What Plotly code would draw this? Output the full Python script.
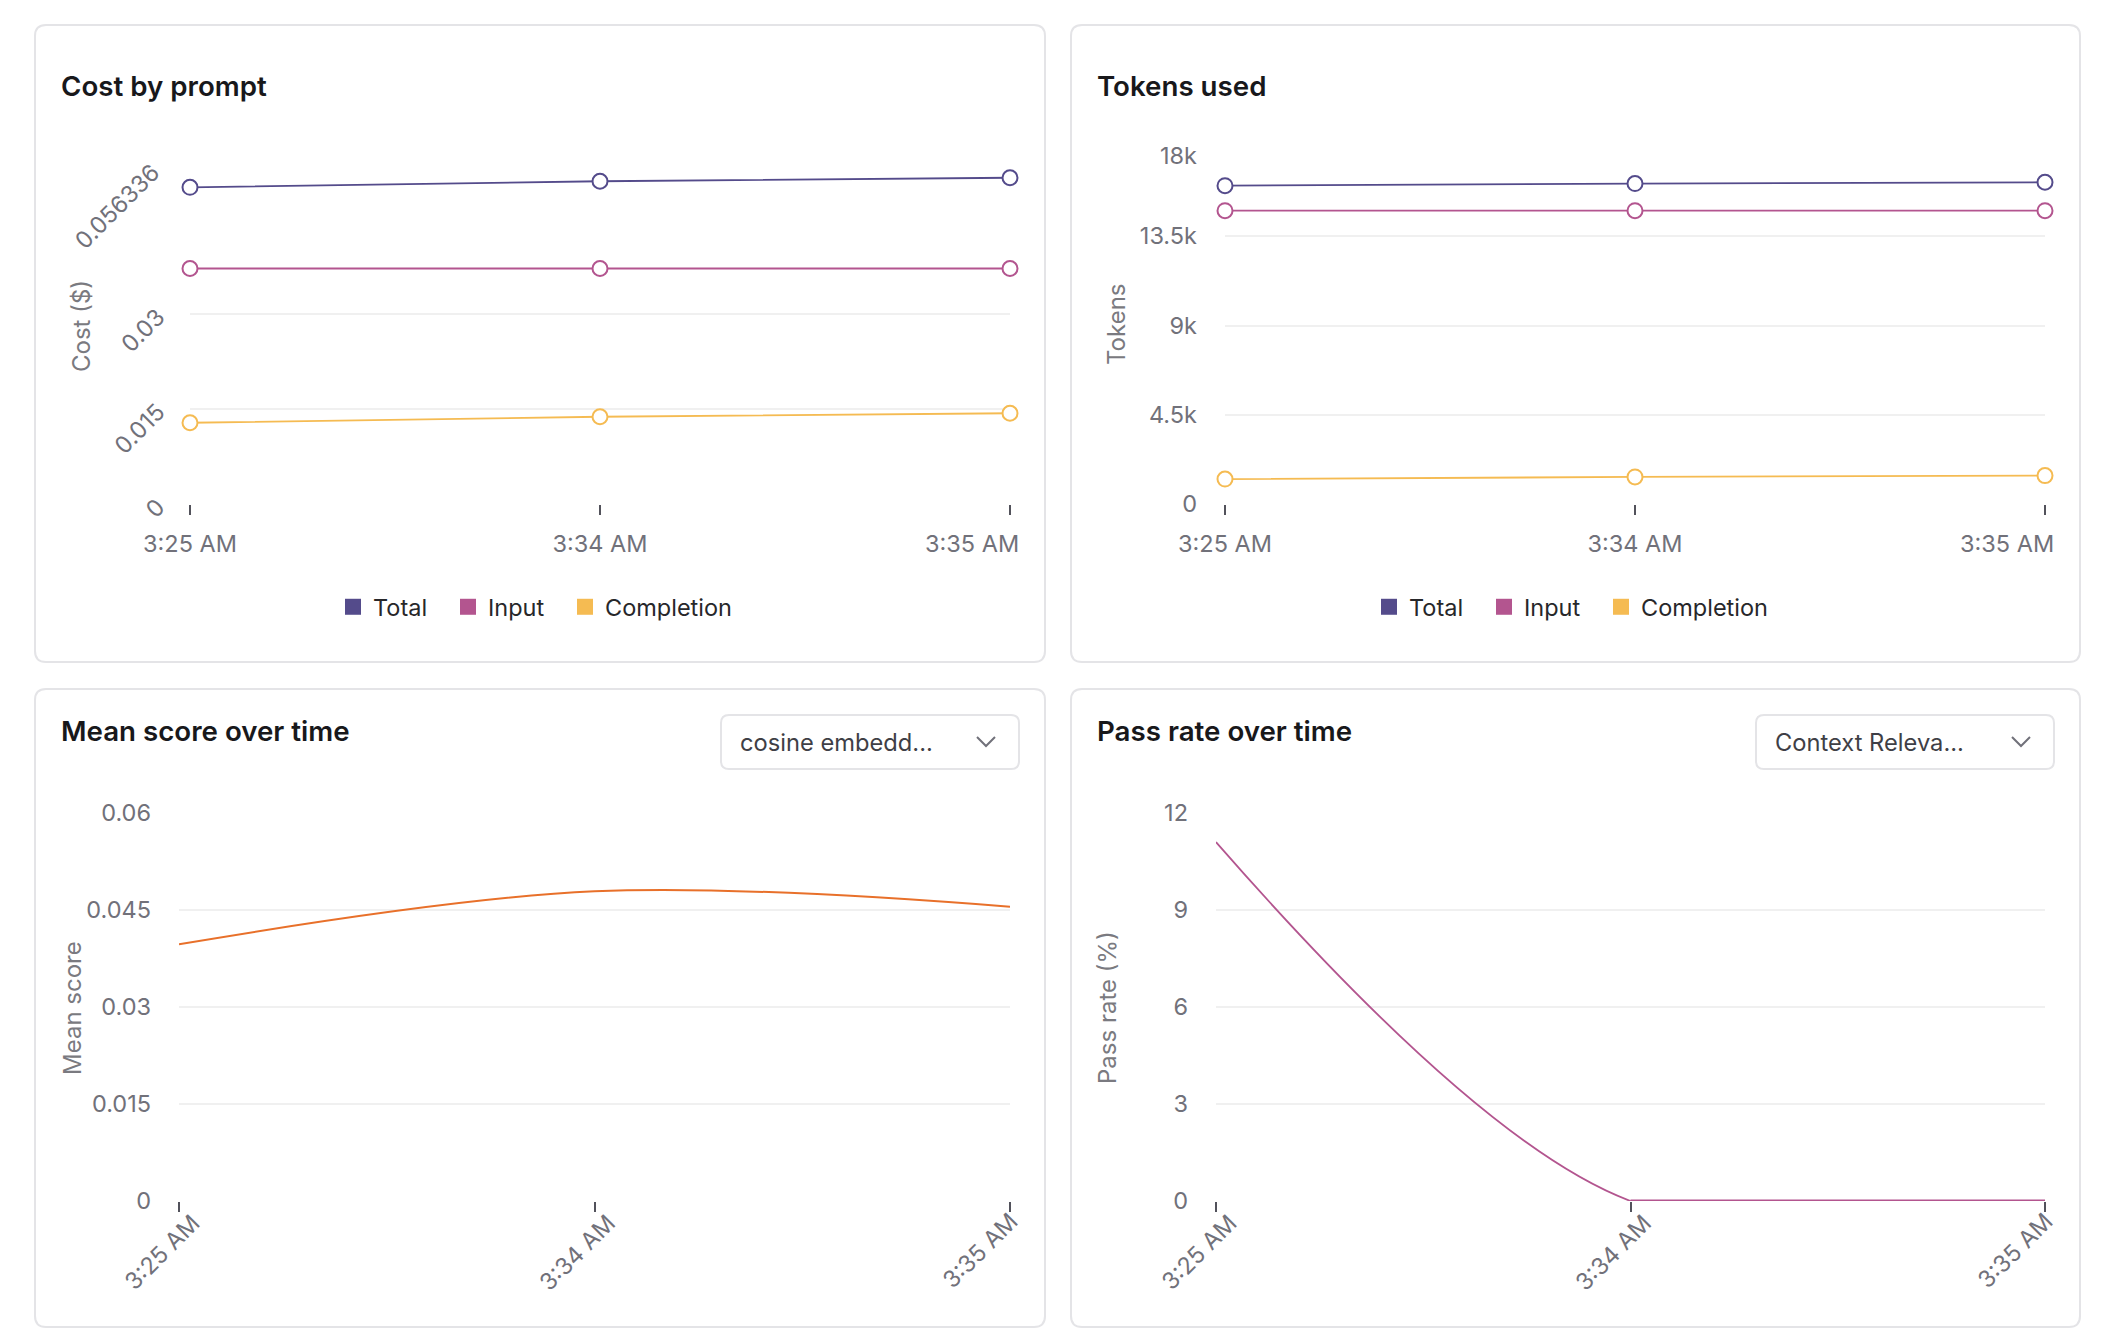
import plotly.graph_objects as go

# ---------------- data ----------------
times = ["3:25 AM", "3:34 AM", "3:35 AM"]

cost_total = [0.04998, 0.05093, 0.05148]
cost_input = [0.03716, 0.03716, 0.03716]
cost_completion = [0.01282, 0.01377, 0.01432]
cost_ticks = [0, 0.015, 0.03, 0.056336]
cost_ticktext = ["0", "0.015", "0.03", "0.056336"]

tokens_total = [16048, 16157, 16222]
tokens_input = [14790, 14790, 14790]
tokens_completion = [1258, 1366, 1431]
token_ticks = [0, 4500, 9000, 13500, 18000]
token_ticktext = ["0", "4.5k", "9k", "13.5k", "18k"]

mean_score = [0.03969, 0.04789, 0.04551]
score_ticks = [0, 0.015, 0.03, 0.045, 0.06]
score_ticktext = ["0", "0.015", "0.03", "0.045", "0.06"]

pass_rate = [11.1, 0, 0]
pass_ticks = [0, 3, 6, 9, 12]
pass_ticktext = ["0", "3", "6", "9", "12"]

series_names = ["Total", "Input", "Completion"]
series_colors = ["#544b8b", "#b3558f", "#f5bb52"]
score_color = "#e8702a"
pass_color = "#b3558f"

# ---------------- layout helpers ----------------
W, H = 2114, 1344
FONT = "Inter"
TICK_COLOR = "#71717a"
GRID = "#f0f0f0"
tickfont = dict(family=FONT, size=23.5, color=TICK_COLOR)


def X(x):
    return x / W


def Y(y):
    return 1 - y / H


def rrect(x0, y0, x1, y1, r):
    return (f"M {X(x0 + r)},{Y(y0)} L {X(x1 - r)},{Y(y0)} Q {X(x1)},{Y(y0)} {X(x1)},{Y(y0 + r)} "
            f"L {X(x1)},{Y(y1 - r)} Q {X(x1)},{Y(y1)} {X(x1 - r)},{Y(y1)} "
            f"L {X(x0 + r)},{Y(y1)} Q {X(x0)},{Y(y1)} {X(x0)},{Y(y1 - r)} "
            f"L {X(x0)},{Y(y0 + r)} Q {X(x0)},{Y(y0)} {X(x0 + r)},{Y(y0)} Z")


fig = go.Figure()

legend_ids = [["legend", "legend2", "legend3"], ["legend4", "legend5", "legend6"]]

# ---- plots 1 & 2: cost and tokens ----
for k, (series, xa, ya) in enumerate([([cost_total, cost_input, cost_completion], "x", "y"),
                                      ([tokens_total, tokens_input, tokens_completion], "x2", "y2")]):
    for name, vals, col in zip(series_names, series, series_colors):
        fig.add_trace(go.Scatter(x=times, y=vals, mode="lines+markers", name=name, showlegend=False,
                                 line=dict(color=col, width=1.8),
                                 marker=dict(size=15, color="white", line=dict(color=col, width=2)),
                                 cliponaxis=False, xaxis=xa, yaxis=ya))
    for name, col, lg in zip(series_names, series_colors, legend_ids[k]):
        fig.add_trace(go.Scatter(x=[None], y=[None], mode="markers", name=name, legend=lg,
                                 marker=dict(symbol="square", size=16, color=col),
                                 xaxis=xa, yaxis=ya))

# ---- plot 3: mean score ----
fig.add_trace(go.Scatter(x=times, y=mean_score, mode="lines", showlegend=False,
                         line=dict(color=score_color, width=2, shape="spline", smoothing=1),
                         xaxis="x3", yaxis="y3"))

# ---- plot 4: pass rate ----
fig.add_trace(go.Scatter(x=times, y=pass_rate, mode="lines", showlegend=False,
                         line=dict(color=pass_color, width=1.8, shape="spline", smoothing=1),
                         xaxis="x4", yaxis="y4"))
fig.add_trace(go.Scatter(x=times[1:], y=pass_rate[1:], mode="lines", showlegend=False,
                         line=dict(color=pass_color, width=3),
                         xaxis="x4", yaxis="y4"))


def xax(x0, x1, angle, anchor):
    d = dict(domain=[X(x0), X(x1)], type="category", range=[0, 2], showgrid=False, zeroline=False,
             showline=False, ticks="outside", ticklen=10, tickwidth=2, tickcolor="#52525b",
             tickfont=tickfont, tickangle=angle, tickvals=times,
             ticktext=times[:-1] + [""], fixedrange=True, automargin=False, anchor=anchor)
    if angle == 0:
        d.update(ticklabelstandoff=9)
    else:
        d.update(ticklabelstandoff=-12, ticklabelshift=14)
    return d


def yax(y0, y1, rng, tv, tt, angle, anchor, hide_top):
    tt = list(tt)
    if hide_top:
        tt[-1] = ""
    return dict(domain=[Y(y1), Y(y0)], range=rng, tickvals=tv, ticktext=tt, showgrid=True,
                gridcolor=GRID, gridwidth=1.6, zeroline=False, showline=False, ticks="",
                tickfont=tickfont, tickangle=angle, ticklabelstandoff=27, anchor=anchor,
                fixedrange=True, automargin=False)


legend_font = dict(family=FONT, size=23.5, color="#27272a")
layout = dict(
    width=W, height=H, margin=dict(l=0, r=0, t=0, b=0, autoexpand=False),
    paper_bgcolor="white", plot_bgcolor="rgba(0,0,0,0)",
    font=dict(family=FONT, color=TICK_COLOR),
    xaxis=xax(190, 1010, 0, "y"),
    yaxis=yax(147, 504, [0, cost_ticks[-1]], cost_ticks, cost_ticktext, -45, "x", True)
    | dict(ticklabelstandoff=31),
    xaxis2=xax(1225, 2045, 0, "y2"),
    yaxis2=yax(147, 504, [0, token_ticks[-1]], token_ticks, token_ticktext, 0, "x2", True),
    xaxis3=xax(179, 1010, -45, "y3"),
    yaxis3=yax(813, 1201, [0, score_ticks[-1]], score_ticks, score_ticktext, 0, "x3", False),
    xaxis4=xax(1216, 2045, -45, "y4"),
    yaxis4=yax(813, 1201, [0, pass_ticks[-1]], pass_ticks, pass_ticktext, 0, "x4", False),
    showlegend=True,
)
marker_centers = [[353, 468, 585], [1389, 1504, 1621]]
for k in range(2):
    for lg, mc in zip(legend_ids[k], marker_centers[k]):
        layout[lg] = dict(orientation="h", x=X(mc - 20), y=Y(607), xanchor="left", yanchor="middle",
                          font=legend_font, bgcolor="rgba(0,0,0,0)")
fig.update_layout(**layout)

# ---- edge tick labels (kept inside the card like the reference) ----
for xa in ["x", "x2"]:
    fig.add_annotation(text=times[-1], xref=xa, x=times[-1], yref="paper", y=Y(543),
                       xanchor="right", yanchor="middle", xshift=11, showarrow=False, font=tickfont)
for xa in ["x3", "x4"]:
    fig.add_annotation(text=times[-1], xref=xa, x=times[-1], yref="paper", y=Y(1204),
                       xanchor="right", yanchor="top", xshift=16, showarrow=False, font=tickfont,
                       textangle=-45)
fig.add_annotation(text=cost_ticktext[-1], xref="paper", x=X(168), yref="y", y=cost_ticks[-1],
                   xanchor="right", yanchor="top", yshift=-8, showarrow=False, font=tickfont,
                   textangle=-45)
fig.add_annotation(text=token_ticktext[-1], xref="paper", x=X(1199), yref="y2", y=token_ticks[-1],
                   xanchor="right", yanchor="middle", yshift=-8, showarrow=False, font=tickfont)

# ---- cards ----
cards = [(35, 25, 1045, 662), (1071, 25, 2080, 662), (35, 689, 1045, 1327), (1071, 689, 2080, 1327)]
for (x0, y0, x1, y1) in cards:
    fig.add_shape(type="path", path=rrect(x0, y0, x1, y1, 11), xref="paper", yref="paper",
                  line=dict(color="#e4e4e7", width=2), fillcolor="white", layer="below")

# ---- card titles ----
titles = [("Cost by prompt", 59, 86), ("Tokens used", 1095, 86),
          ("Mean score over time", 59, 731), ("Pass rate over time", 1095, 731)]
for txt, x, y in titles:
    fig.add_annotation(text=txt, x=X(x), y=Y(y), xref="paper", yref="paper", xanchor="left",
                       yanchor="middle", showarrow=False,
                       font=dict(family=FONT, size=27.7, color="#18181b", weight=600))

# ---- axis titles ----
axis_titles = [("Cost ($)", 81, 326), ("Tokens", 1117, 325),
               ("Mean score", 72, 1008), ("Pass rate (%)", 1107, 1008)]
for txt, x, y in axis_titles:
    fig.add_annotation(text=txt, x=X(x), y=Y(y), xref="paper", yref="paper", xanchor="center",
                       yanchor="middle", showarrow=False, textangle=-90,
                       font=dict(family=FONT, size=24, color="#7a7a80"))

# ---- dropdowns ----
dropdowns = [("cosine embedd...", 721, 1019), ("Context Releva...", 1756, 2054)]
for txt, x0, x1 in dropdowns:
    fig.add_shape(type="path", path=rrect(x0, 715, x1, 769, 8), xref="paper", yref="paper",
                  line=dict(color="#e4e4e7", width=2), fillcolor="white")
    fig.add_annotation(text=txt, x=X(x0 + 17), y=Y(742), xref="paper", yref="paper",
                       xanchor="left", yanchor="middle", showarrow=False,
                       font=dict(family=FONT, size=23.7, color="#3f3f46"))
    cx = x1 - 33
    fig.add_shape(type="path",
                  path=f"M {X(cx - 9)},{Y(737)} L {X(cx)},{Y(746)} L {X(cx + 9)},{Y(737)}",
                  xref="paper", yref="paper", line=dict(color="#71717a", width=2))

fig.write_html("out.html", config={"displayModeBar": False, "responsive": False},
               post_script="document.body.style.margin='0';document.body.style.overflow='hidden';")
